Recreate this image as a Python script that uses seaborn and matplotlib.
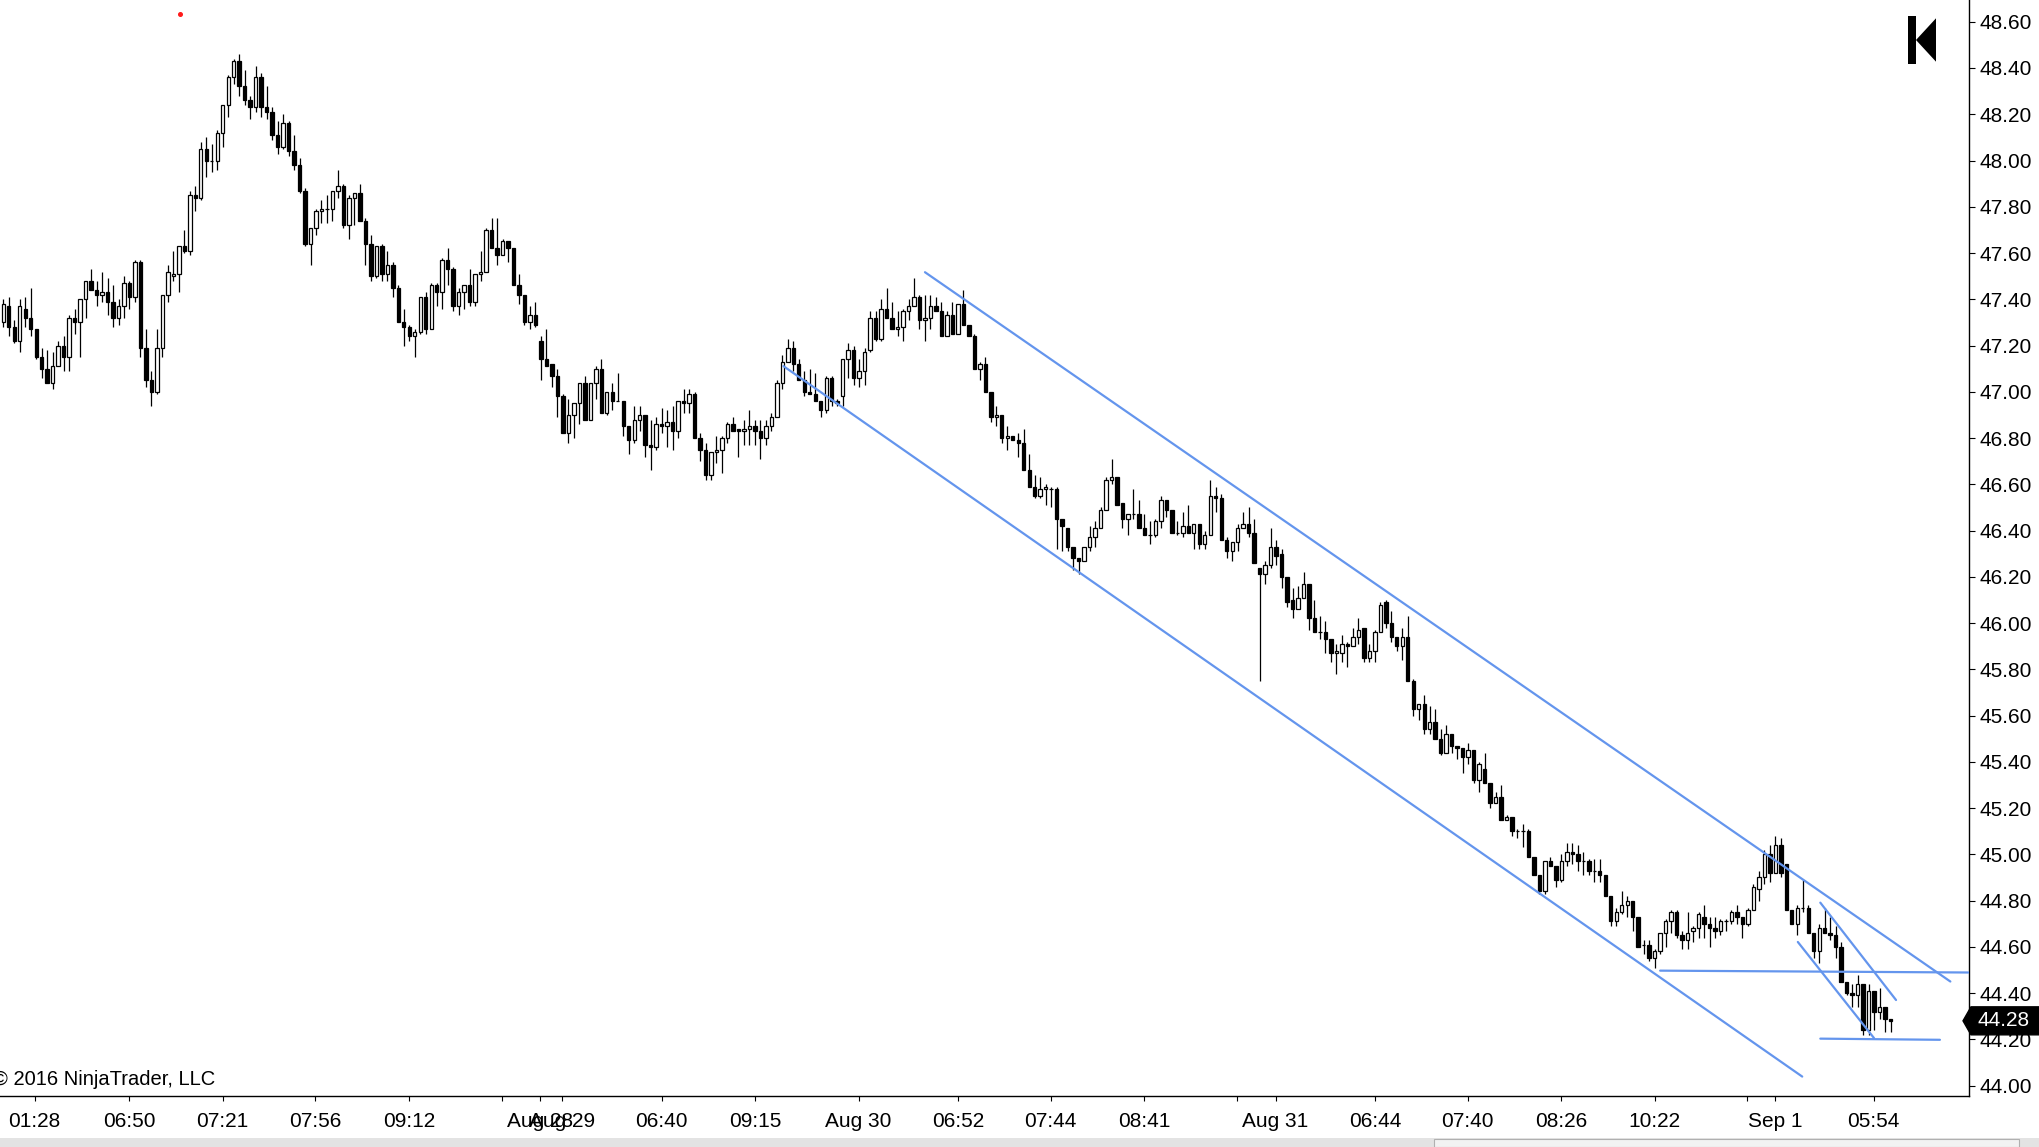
import numpy as np
import pandas as pd
import matplotlib
matplotlib.use("Agg")
import matplotlib.pyplot as plt
import seaborn as sns
from matplotlib.patches import Polygon, Rectangle
from matplotlib import transforms as mtransforms

# ---------------- data ----------------
opens = [
    47.30, 47.37, 47.28, 47.22, 47.36, 47.32, 47.27, 47.15, 47.10, 47.04,
    47.11, 47.20, 47.15, 47.32, 47.30, 47.40, 47.48, 47.44, 47.42, 47.43,
    47.39, 47.32, 47.37, 47.47, 47.41, 47.56, 47.19, 47.05, 47.00, 47.19,
    47.42, 47.50, 47.51, 47.63, 47.61, 47.85, 47.84, 48.05, 48.00, 48.00,
    48.12, 48.24, 48.36, 48.43, 48.32, 48.26, 48.23, 48.36, 48.23, 48.21,
    48.11, 48.06, 48.16, 48.04, 47.98, 47.87, 47.64, 47.71, 47.78, 47.79,
    47.79, 47.87, 47.89, 47.72, 47.84, 47.86, 47.74, 47.64, 47.50, 47.63,
    47.51, 47.55, 47.45, 47.30, 47.28, 47.24, 47.26, 47.41, 47.27, 47.46,
    47.43, 47.57, 47.53, 47.37, 47.43, 47.46, 47.39, 47.51, 47.52, 47.70,
    47.62, 47.59, 47.65, 47.62, 47.46, 47.42, 47.30, 47.33, 47.22, 47.14,
    47.12, 47.07, 46.98, 46.82, 46.90, 46.95, 47.04, 46.88, 47.04, 47.10,
    46.91, 47.00, 46.96, 46.96, 46.85, 46.79, 46.88, 46.90, 46.77, 46.76,
    46.86, 46.85, 46.87, 46.83, 46.96, 46.95, 46.99, 46.80, 46.75, 46.64,
    46.74, 46.75, 46.80, 46.86, 46.84, 46.83, 46.84, 46.85, 46.83, 46.80,
    46.85, 46.89, 47.04, 47.13, 47.19, 47.12, 47.05, 47.00, 46.99, 46.96,
    46.92, 47.06, 46.96, 46.98, 47.14, 47.18, 47.06, 47.09, 47.18, 47.32,
    47.23, 47.36, 47.32, 47.27, 47.28, 47.35, 47.37, 47.41, 47.31, 47.32,
    47.37, 47.35, 47.24, 47.33, 47.25, 47.38, 47.29, 47.24, 47.10, 47.12,
    47.00, 46.89, 46.90, 46.80, 46.81, 46.79, 46.78, 46.66, 46.59, 46.55,
    46.58, 46.58, 46.58, 46.45, 46.41, 46.33, 46.28, 46.27, 46.33, 46.37,
    46.41, 46.49, 46.62, 46.63, 46.52, 46.45, 46.47, 46.47, 46.41, 46.38,
    46.38, 46.44, 46.53, 46.49, 46.39, 46.39, 46.42, 46.39, 46.43, 46.34,
    46.38, 46.55, 46.54, 46.36, 46.31, 46.35, 46.41, 46.43, 46.39, 46.24,
    46.21, 46.25, 46.33, 46.30, 46.20, 46.10, 46.06, 46.11, 46.17, 46.02,
    45.96, 45.96, 45.93, 45.87, 45.87, 45.91, 45.90, 45.94, 45.98, 45.85,
    45.88, 45.96, 46.09, 46.00, 45.94, 45.90, 45.94, 45.75, 45.63, 45.65,
    45.54, 45.57, 45.50, 45.44, 45.52, 45.47, 45.46, 45.42, 45.45, 45.32,
    45.37, 45.31, 45.22, 45.25, 45.15, 45.16, 45.10, 45.10, 45.10, 44.99,
    44.91, 44.84, 44.97, 44.95, 44.89, 44.97, 45.01, 45.00, 44.97, 44.97,
    44.93, 44.93, 44.91, 44.82, 44.71, 44.75, 44.78, 44.80, 44.73, 44.61,
    44.61, 44.55, 44.58, 44.66, 44.71, 44.75, 44.65, 44.63, 44.67, 44.68,
    44.73, 44.70, 44.68, 44.67, 44.71, 44.71, 44.75, 44.73, 44.70, 44.76,
    44.85, 44.90, 45.00, 44.92, 45.04, 44.96, 44.76, 44.70, 44.77, 44.77,
    44.66, 44.58, 44.68, 44.66, 44.65, 44.60, 44.45, 44.40, 44.39, 44.44,
    44.24, 44.41, 44.32, 44.34, 44.29,
]
highs = [
    47.40, 47.41, 47.31, 47.40, 47.41, 47.45, 47.27, 47.19, 47.18, 47.17,
    47.22, 47.24, 47.33, 47.36, 47.40, 47.48, 47.53, 47.48, 47.52, 47.49,
    47.46, 47.40, 47.50, 47.48, 47.57, 47.57, 47.27, 47.09, 47.27, 47.42,
    47.55, 47.61, 47.63, 47.70, 47.87, 47.89, 48.08, 48.10, 48.07, 48.13,
    48.24, 48.37, 48.44, 48.46, 48.39, 48.28, 48.41, 48.38, 48.32, 48.23,
    48.17, 48.20, 48.17, 48.11, 48.01, 47.88, 47.71, 47.79, 47.83, 47.85,
    47.87, 47.96, 47.90, 47.85, 47.86, 47.90, 47.75, 47.68, 47.63, 47.64,
    47.61, 47.56, 47.46, 47.36, 47.29, 47.27, 47.41, 47.43, 47.47, 47.47,
    47.58, 47.62, 47.54, 47.45, 47.46, 47.53, 47.51, 47.61, 47.71, 47.75,
    47.75, 47.66, 47.65, 47.62, 47.51, 47.42, 47.37, 47.39, 47.24, 47.27,
    47.12, 47.10, 46.99, 46.97, 46.95, 47.04, 47.07, 47.04, 47.11, 47.14,
    47.00, 47.04, 47.08, 46.96, 46.85, 46.94, 46.94, 46.90, 46.88, 46.89,
    46.93, 46.92, 46.94, 46.96, 47.01, 47.01, 47.00, 46.82, 46.78, 46.74,
    46.81, 46.81, 46.87, 46.89, 46.84, 46.88, 46.92, 46.88, 46.88, 46.88,
    46.91, 47.05, 47.16, 47.23, 47.22, 47.14, 47.09, 47.10, 47.08, 46.96,
    47.07, 47.07, 46.97, 47.14, 47.21, 47.20, 47.14, 47.19, 47.35, 47.35,
    47.40, 47.45, 47.39, 47.35, 47.36, 47.40, 47.49, 47.42, 47.42, 47.42,
    47.41, 47.39, 47.35, 47.39, 47.38, 47.44, 47.29, 47.25, 47.13, 47.15,
    47.00, 46.94, 46.90, 46.85, 46.81, 46.82, 46.84, 46.73, 46.64, 46.63,
    46.60, 46.59, 46.59, 46.45, 46.41, 46.33, 46.28, 46.33, 46.42, 46.44,
    46.50, 46.63, 46.71, 46.63, 46.52, 46.47, 46.58, 46.53, 46.47, 46.44,
    46.45, 46.55, 46.53, 46.49, 46.44, 46.48, 46.51, 46.43, 46.43, 46.40,
    46.62, 46.59, 46.56, 46.37, 46.35, 46.43, 46.48, 46.50, 46.45, 46.24,
    46.27, 46.41, 46.36, 46.32, 46.20, 46.15, 46.16, 46.22, 46.17, 46.10,
    46.03, 46.01, 45.93, 45.91, 45.95, 45.92, 45.98, 46.02, 45.98, 45.91,
    45.97, 46.09, 46.10, 46.05, 45.94, 45.98, 46.03, 45.76, 45.65, 45.69,
    45.64, 45.63, 45.54, 45.56, 45.52, 45.47, 45.46, 45.48, 45.45, 45.40,
    45.44, 45.31, 45.27, 45.30, 45.17, 45.16, 45.11, 45.13, 45.11, 44.99,
    44.91, 44.97, 44.99, 44.95, 45.00, 45.05, 45.05, 45.04, 45.01, 44.98,
    44.98, 44.98, 44.91, 44.82, 44.77, 44.84, 44.82, 44.80, 44.73, 44.63,
    44.63, 44.59, 44.66, 44.72, 44.76, 44.76, 44.67, 44.75, 44.69, 44.75,
    44.78, 44.73, 44.73, 44.72, 44.72, 44.76, 44.78, 44.73, 44.77, 44.87,
    44.93, 45.02, 45.04, 45.08, 45.07, 44.96, 44.76, 44.78, 44.89, 44.78,
    44.66, 44.70, 44.77, 44.73, 44.69, 44.62, 44.45, 44.44, 44.48, 44.44,
    44.44, 44.41, 44.42, 44.34, 44.29,
]
lows = [
    47.28, 47.24, 47.21, 47.17, 47.28, 47.24, 47.14, 47.06, 47.04, 47.01,
    47.11, 47.09, 47.09, 47.25, 47.15, 47.32, 47.44, 47.37, 47.39, 47.33,
    47.28, 47.29, 47.32, 47.36, 47.39, 47.15, 47.02, 46.94, 46.99, 47.15,
    47.39, 47.48, 47.43, 47.60, 47.59, 47.78, 47.83, 47.93, 47.95, 47.96,
    48.06, 48.19, 48.33, 48.28, 48.24, 48.18, 48.21, 48.19, 48.18, 48.09,
    48.03, 48.05, 48.02, 47.96, 47.86, 47.63, 47.55, 47.68, 47.73, 47.73,
    47.74, 47.84, 47.71, 47.66, 47.72, 47.74, 47.55, 47.48, 47.49, 47.48,
    47.48, 47.41, 47.30, 47.20, 47.22, 47.15, 47.25, 47.25, 47.27, 47.37,
    47.36, 47.46, 47.35, 47.33, 47.36, 47.37, 47.37, 47.48, 47.52, 47.62,
    47.55, 47.59, 47.56, 47.46, 47.38, 47.29, 47.27, 47.28, 47.05, 47.11,
    47.02, 46.89, 46.82, 46.78, 46.80, 46.86, 46.88, 46.88, 46.97, 46.91,
    46.90, 46.92, 46.96, 46.81, 46.73, 46.78, 46.83, 46.72, 46.66, 46.75,
    46.82, 46.76, 46.75, 46.80, 46.91, 46.91, 46.80, 46.70, 46.62, 46.62,
    46.69, 46.65, 46.78, 46.83, 46.72, 46.77, 46.77, 46.77, 46.71, 46.77,
    46.83, 46.89, 47.01, 47.13, 47.09, 47.05, 46.98, 46.99, 46.96, 46.89,
    46.91, 46.94, 46.94, 46.94, 47.06, 47.03, 47.02, 47.03, 47.17, 47.22,
    47.22, 47.32, 47.27, 47.24, 47.22, 47.31, 47.37, 47.27, 47.22, 47.27,
    47.35, 47.24, 47.24, 47.25, 47.25, 47.29, 47.24, 47.10, 47.05, 47.00,
    46.87, 46.85, 46.78, 46.75, 46.79, 46.72, 46.66, 46.59, 46.54, 46.54,
    46.51, 46.50, 46.32, 46.31, 46.31, 46.23, 46.21, 46.27, 46.31, 46.33,
    46.41, 46.49, 46.60, 46.51, 46.41, 46.38, 46.45, 46.41, 46.38, 46.34,
    46.37, 46.41, 46.46, 46.39, 46.38, 46.37, 46.39, 46.32, 46.32, 46.32,
    46.38, 46.48, 46.36, 46.28, 46.27, 46.31, 46.41, 46.37, 46.26, 45.75,
    46.17, 46.24, 46.25, 46.15, 46.07, 46.02, 46.06, 46.11, 45.97, 45.96,
    45.93, 45.87, 45.83, 45.78, 45.83, 45.81, 45.90, 45.91, 45.83, 45.83,
    45.83, 45.96, 45.98, 45.92, 45.88, 45.84, 45.75, 45.60, 45.58, 45.52,
    45.52, 45.50, 45.43, 45.44, 45.44, 45.41, 45.35, 45.39, 45.31, 45.27,
    45.31, 45.20, 45.22, 45.15, 45.15, 45.08, 45.07, 45.03, 44.99, 44.91,
    44.83, 44.83, 44.95, 44.86, 44.88, 44.95, 44.96, 44.93, 44.91, 44.91,
    44.88, 44.88, 44.82, 44.69, 44.69, 44.74, 44.73, 44.67, 44.60, 44.57,
    44.54, 44.51, 44.57, 44.60, 44.66, 44.64, 44.59, 44.59, 44.62, 44.64,
    44.64, 44.60, 44.64, 44.65, 44.67, 44.70, 44.70, 44.64, 44.69, 44.76,
    44.80, 44.87, 44.88, 44.92, 44.90, 44.76, 44.70, 44.65, 44.75, 44.66,
    44.55, 44.53, 44.66, 44.63, 44.55, 44.45, 44.39, 44.34, 44.34, 44.22,
    44.22, 44.24, 44.29, 44.23, 44.23,
]
closes = [
    47.38, 47.28, 47.22, 47.37, 47.32, 47.27, 47.15, 47.10, 47.04, 47.11,
    47.20, 47.15, 47.32, 47.30, 47.40, 47.48, 47.44, 47.42, 47.43, 47.39,
    47.32, 47.37, 47.47, 47.41, 47.56, 47.19, 47.05, 47.00, 47.19, 47.42,
    47.52, 47.51, 47.63, 47.61, 47.85, 47.84, 48.05, 48.00, 48.00, 48.12,
    48.24, 48.36, 48.43, 48.32, 48.26, 48.23, 48.36, 48.23, 48.21, 48.11,
    48.06, 48.16, 48.04, 47.98, 47.87, 47.64, 47.71, 47.78, 47.79, 47.79,
    47.87, 47.89, 47.72, 47.84, 47.86, 47.74, 47.64, 47.50, 47.63, 47.51,
    47.55, 47.45, 47.30, 47.28, 47.24, 47.26, 47.41, 47.27, 47.46, 47.43,
    47.57, 47.53, 47.37, 47.43, 47.46, 47.39, 47.51, 47.52, 47.70, 47.62,
    47.59, 47.65, 47.62, 47.46, 47.42, 47.30, 47.33, 47.29, 47.14, 47.11,
    47.07, 46.98, 46.82, 46.90, 46.95, 47.04, 46.88, 47.04, 47.10, 46.91,
    47.00, 46.96, 46.96, 46.85, 46.79, 46.88, 46.90, 46.77, 46.76, 46.86,
    46.85, 46.87, 46.83, 46.96, 46.95, 46.99, 46.80, 46.75, 46.64, 46.74,
    46.75, 46.80, 46.86, 46.83, 46.83, 46.84, 46.85, 46.83, 46.80, 46.85,
    46.89, 47.04, 47.13, 47.19, 47.12, 47.05, 47.00, 46.99, 46.96, 46.92,
    47.06, 46.96, 46.95, 47.14, 47.18, 47.06, 47.09, 47.17, 47.32, 47.23,
    47.36, 47.32, 47.27, 47.28, 47.35, 47.37, 47.41, 47.31, 47.32, 47.37,
    47.35, 47.24, 47.33, 47.25, 47.38, 47.29, 47.24, 47.10, 47.12, 47.00,
    46.89, 46.90, 46.80, 46.81, 46.79, 46.78, 46.66, 46.59, 46.55, 46.58,
    46.59, 46.58, 46.45, 46.42, 46.33, 46.28, 46.27, 46.33, 46.37, 46.41,
    46.49, 46.62, 46.63, 46.51, 46.45, 46.47, 46.47, 46.41, 46.38, 46.38,
    46.44, 46.53, 46.49, 46.39, 46.39, 46.42, 46.39, 46.43, 46.34, 46.38,
    46.55, 46.54, 46.36, 46.31, 46.35, 46.41, 46.43, 46.39, 46.26, 46.21,
    46.25, 46.33, 46.29, 46.20, 46.09, 46.06, 46.11, 46.17, 46.02, 45.96,
    45.96, 45.93, 45.87, 45.88, 45.91, 45.90, 45.94, 45.97, 45.85, 45.88,
    45.96, 46.08, 46.00, 45.94, 45.90, 45.94, 45.75, 45.63, 45.65, 45.54,
    45.57, 45.50, 45.44, 45.52, 45.47, 45.46, 45.42, 45.45, 45.32, 45.39,
    45.31, 45.22, 45.25, 45.15, 45.16, 45.10, 45.10, 45.10, 44.99, 44.91,
    44.84, 44.97, 44.95, 44.89, 44.97, 45.01, 45.00, 44.97, 44.97, 44.93,
    44.93, 44.91, 44.82, 44.71, 44.75, 44.78, 44.80, 44.73, 44.60, 44.61,
    44.55, 44.58, 44.66, 44.71, 44.75, 44.65, 44.63, 44.66, 44.68, 44.74,
    44.70, 44.68, 44.67, 44.71, 44.71, 44.75, 44.73, 44.70, 44.76, 44.86,
    44.90, 45.00, 44.92, 45.04, 44.92, 44.76, 44.70, 44.77, 44.77, 44.66,
    44.58, 44.68, 44.66, 44.65, 44.60, 44.45, 44.40, 44.39, 44.44, 44.24,
    44.41, 44.32, 44.34, 44.29, 44.28,
]

# x-axis time labels (position = bar index)
x_tick_pos = [5.7, 23.0, 40.0, 56.9, 74.0, 90.9, 97.8, 101.8, 120.0, 137.0,
              155.9, 174.0, 190.9, 208.0, 224.9, 231.9, 250.0, 266.9, 284.0,
              301.0, 317.9, 322.9, 340.9]
x_tick_labels = ['01:28', '06:50', '07:21', '07:56', '09:12', '', 'Aug 28',
                 'Aug 29', '06:40', '09:15', 'Aug 30', '06:52', '07:44',
                 '08:41', '', 'Aug 31', '06:44', '07:40', '08:26', '10:22',
                 '', 'Sep 1', '05:54']
y_ticks = [44.00, 44.20, 44.40, 44.60, 44.80, 45.00, 45.20, 45.40, 45.60,
           45.80, 46.00, 46.20, 46.40, 46.60, 46.80, 47.00, 47.20, 47.40,
           47.60, 47.80, 48.00, 48.20, 48.40, 48.60]

# drawn trend / channel lines: (line id, bar index, price)
line_id = [0, 0, 1, 1, 2, 2, 3, 3, 4, 4, 5, 5]
line_x = [168.0, 354.9, 142.2, 327.9, 302.0, 358.2, 331.2, 353.0,
          331.2, 345.0, 327.1, 341.0]
line_y = [47.517, 44.450, 47.111, 44.039, 44.497, 44.489, 44.203, 44.198,
          44.791, 44.370, 44.621, 44.205]

# small red marker near the top
dot_x = [32.2]
dot_y = [48.635]

assert len(opens) == len(highs) == len(lows) == len(closes) == 345

# ---------------- style ----------------
sns.set_style("white")
plt.rcParams['font.family'] = ['Liberation Sans', 'DejaVu Sans']
plt.rcParams['axes.edgecolor'] = 'black'

W, H = 2040, 1147
fig = plt.figure(figsize=(W / 100, H / 100), dpi=100)
fig.patch.set_facecolor('white')
ax = fig.add_axes([0, 51 / H, 1969 / W, 1096 / H])
ax.set_facecolor('white')

o = np.array(opens)
h = np.array(highs)
l = np.array(lows)
c = np.array(closes)
idx = np.arange(len(c))
up = c >= o

ax.vlines(idx, l, h, color='black', linewidth=0.9, zorder=2)
body_bottom = np.minimum(o, c)
body_height = np.abs(c - o)
ax.bar(idx[up], body_height[up], bottom=body_bottom[up], width=0.62,
       facecolor='white', edgecolor='black', linewidth=0.9, zorder=3)
ax.bar(idx[~up], body_height[~up], bottom=body_bottom[~up], width=0.62,
       facecolor='black', edgecolor='black', linewidth=0.9, zorder=3)

df_lines = pd.DataFrame({'id': line_id, 'x': line_x, 'y': line_y})
sns.lineplot(data=df_lines, x='x', y='y', units='id', estimator=None,
             sort=False, color='#6495ED', linewidth=1.6, ax=ax,
             legend=False, zorder=4)

ax.plot(dot_x, dot_y, 'o', color='#ff1a1a', markersize=2.6, zorder=5,
        clip_on=False)

# axes cosmetics
ax.set_xlabel('')
ax.set_ylabel('')
for side in ['left', 'top']:
    ax.spines[side].set_visible(False)
for side in ['right', 'bottom']:
    ax.spines[side].set_visible(True)
    ax.spines[side].set_color('black')
    ax.spines[side].set_linewidth(1.0)

ax.yaxis.tick_right()
ax.set_yticks(y_ticks)
ax.set_yticklabels([f"{v:.2f}" for v in y_ticks])
ax.set_xticks(x_tick_pos)
ax.set_xticklabels(x_tick_labels)
ax.tick_params(axis='y', which='major', direction='out', length=4.3,
               width=0.8, pad=3, labelsize=15, colors='black', right=True,
               left=False)
ax.tick_params(axis='x', which='major', direction='out', length=3.3,
               width=0.8, pad=8.4, labelsize=15, colors='black', bottom=True)
ax.grid(False)

ax.set_xlim(-0.6, 358.3)
ax.set_ylim(43.955, 48.694)

# last price tag
base = mtransforms.blended_transform_factory(ax.transAxes, ax.transData)
tag_tr = mtransforms.Affine2D() + mtransforms.ScaledTranslation(1.0, closes[-1], base)
tag = Polygon([(-6, 0), (2, 14), (75, 14), (75, -14), (2, -14)], closed=True,
              transform=tag_tr, facecolor='black', edgecolor='black',
              zorder=6)
fig.add_artist(tag)
fig.text(1.0, closes[-1], f"{closes[-1]:.2f}",
         transform=base + mtransforms.Affine2D().translate(9, 0),
         color='white', fontsize=15, ha='left', va='center', zorder=7)


def px(x, y):
    return (x / W, 1 - y / H)


# logo in the top-right corner
fig.add_artist(Rectangle(px(1908, 63.7), 8 / W, 48 / H, transform=fig.transFigure,
                         facecolor='black', edgecolor='none', zorder=6))
fig.add_artist(Polygon([px(1916, 40), px(1936, 18.3), px(1936, 61.7)],
                       closed=True, transform=fig.transFigure,
                       facecolor='black', edgecolor='none', zorder=6))

# copyright
fig.text(-7 / W, 1 - 1085 / H, "\u00a9 2016 NinjaTrader, LLC", fontsize=14.5,
         ha='left', va='baseline', color='black')

# bottom scroll strip
fig.add_artist(Rectangle(px(0, 1147), 1.0, 9 / H, transform=fig.transFigure,
                         facecolor='#e3e3e3', edgecolor='none', zorder=1))
fig.add_artist(Rectangle(px(1434, 1147), 585 / W, 8 / H, transform=fig.transFigure,
                         facecolor='#f2f2f2', edgecolor='#b0b0b0',
                         linewidth=0.8, zorder=2))

fig.savefig('out.png', dpi=100, facecolor='white')
